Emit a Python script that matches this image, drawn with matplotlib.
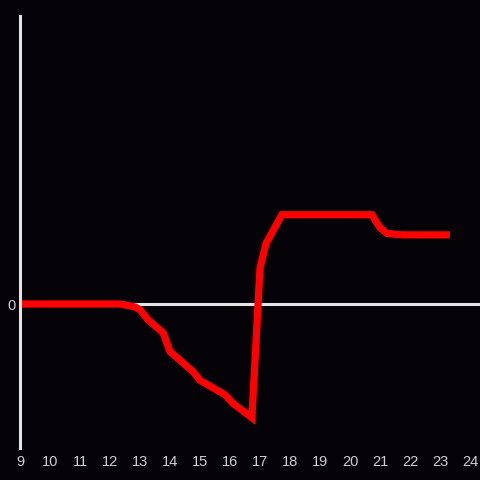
import matplotlib.pyplot as plt

hours = [9.0, 12.33, 12.6, 12.83, 13.0, 13.27, 13.77, 14.0, 14.77, 15.0, 15.83,
         16.1, 16.73, 17.0, 17.2, 17.73, 20.73, 21.0, 21.23, 21.73, 23.33]
values = [0.0, 0.0, -0.01, -0.02, -0.04, -0.11, -0.2, -0.33, -0.47, -0.53, -0.63,
          -0.69, -0.79, 0.25, 0.42, 0.62, 0.62, 0.53, 0.49, 0.48, 0.48]
xticks = list(range(9, 25))

bg = '#050308'
axis_col = '#e4e4e4'
text_col = '#d0d0d0'

fig = plt.figure(figsize=(4.8, 4.8), dpi=100, facecolor=bg)
ax = fig.add_axes([20 / 480, 32 / 480, 460 / 480, 432 / 480])
ax.set_facecolor(bg)

ax.axhline(0, color=axis_col, lw=2.2, zorder=1)
ax.plot(hours, values, color='#ff0000', lw=5.2, solid_joinstyle='miter',
        solid_capstyle='butt', zorder=2)

ax.set_xlim(9, 24.333)
ax.set_ylim(-1, 2)
ax.set_xticks(xticks)
ax.set_xticklabels([str(t) for t in xticks])
ax.set_yticks([0])
ax.set_yticklabels(['0'])

for s in ['top', 'right', 'bottom']:
    ax.spines[s].set_visible(False)
ax.spines['left'].set_color(axis_col)
ax.spines['left'].set_linewidth(2.2)

ax.tick_params(axis='both', length=0, colors=text_col, labelsize=10.5)
ax.tick_params(axis='x', pad=5)
ax.tick_params(axis='y', pad=3)
for lab in ax.get_xticklabels() + ax.get_yticklabels():
    lab.set_fontfamily('Liberation Sans')

fig.savefig('out.png', dpi=100, facecolor=bg)
